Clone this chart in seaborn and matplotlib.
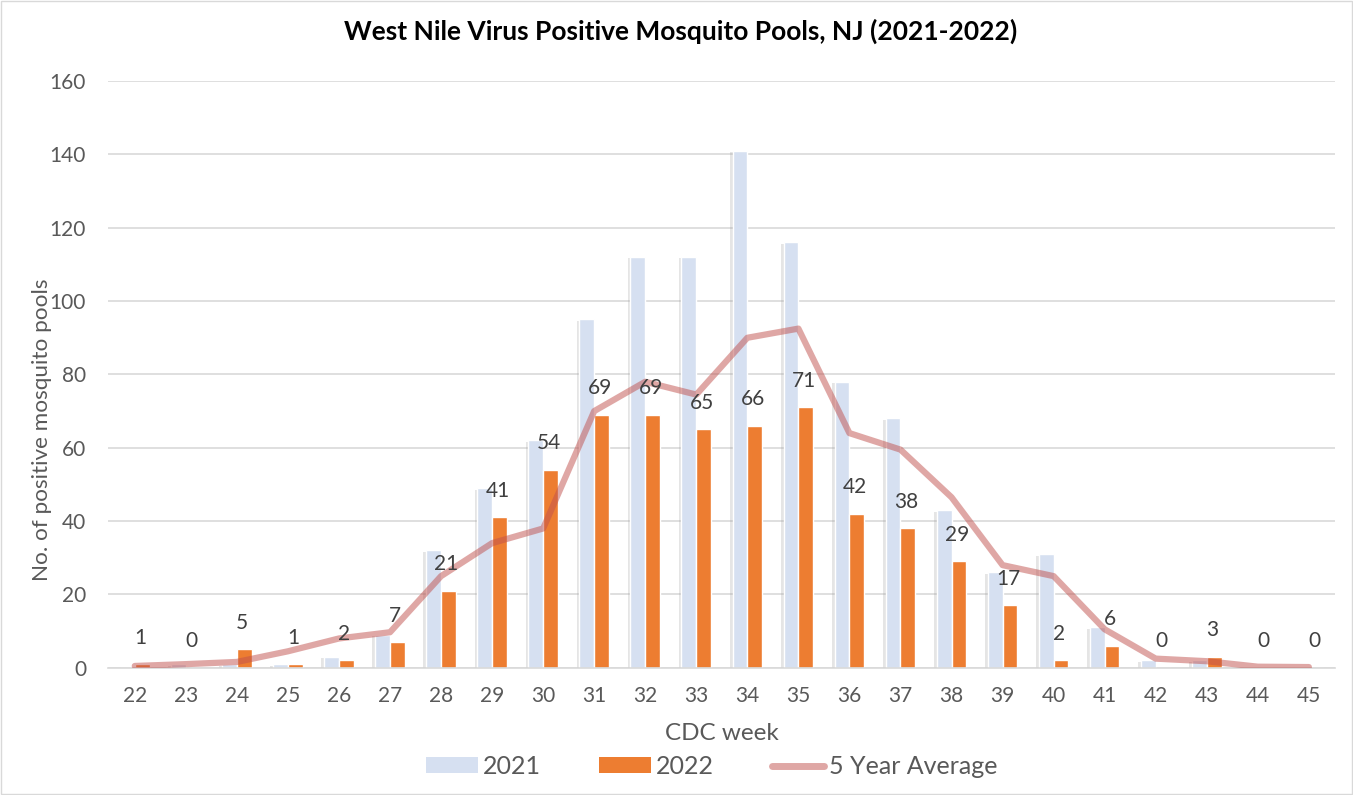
import numpy as np
import pandas as pd
import matplotlib
matplotlib.use("Agg")
import matplotlib.pyplot as plt
import matplotlib.patheffects as pe
from matplotlib.patches import Patch
from matplotlib.lines import Line2D
import seaborn as sns

weeks = [22, 23, 24, 25, 26, 27, 28, 29, 30, 31, 32, 33,
         34, 35, 36, 37, 38, 39, 40, 41, 42, 43, 44, 45]
pools_2021 = [0, 1, 1, 1, 3, 9, 32, 49, 62, 95, 112, 112,
              141, 116, 78, 68, 43, 26, 31, 11, 2, 2, 0, 0]
pools_2022 = [1, 0, 5, 1, 2, 7, 21, 41, 54, 69, 69, 65,
              66, 71, 42, 38, 29, 17, 2, 6, 0, 3, 0, 0]
avg_5yr = [0.5, 1, 1.6, 4.5, 8, 9.7, 25, 34, 38, 70, 78, 74.5,
           90, 92.5, 64, 59.5, 46.5, 28, 25, 10.5, 2.5, 1.8, 0.3, 0.2]

df = pd.DataFrame({
    "week": [str(w) for w in weeks] * 2,
    "pools": pools_2021 + pools_2022,
    "year": ["2021"] * len(weeks) + ["2022"] * len(weeks),
})

c21 = "#D6E0F1"
c22 = "#ED7D31"
cline = "#C0504D"
txt = "#595959"

sns.set_style("white")
plt.rcParams["font.family"] = ["Lato", "DejaVu Sans"]

fig = plt.figure(figsize=(13.53, 7.95), dpi=100)
ax = fig.add_axes([0.08, 0.16, 0.907, 0.738])

sns.barplot(data=df, x="week", y="pools", hue="year", order=[str(w) for w in weeks],
            palette={"2021": c21, "2022": c22}, width=0.58, gap=0, dodge=True,
            saturation=1, errorbar=None, legend=False, ax=ax, zorder=2)

# soft shadow on the 2021 bars like the Excel original
for bar in ax.containers[0]:
    bar.set_path_effects([pe.SimplePatchShadow(offset=(-2, -1), alpha=0.25, shadow_rgbFace="#999999"),
                          pe.Normal()])

sns.lineplot(x=np.arange(len(weeks)), y=avg_5yr, color=cline, alpha=0.5,
             linewidth=4.5, ax=ax, zorder=4, solid_capstyle="round")

# data labels for 2022
for bar, v in zip(ax.containers[1], pools_2022):
    ax.text(bar.get_x() + bar.get_width() / 2 - 0.04, v + 4.5, str(v), ha="center",
            va="bottom", fontsize=15, color="#404040", zorder=5)

ax.set_ylim(0, 160)
ax.set_xlim(-0.52, len(weeks) - 0.48)
ax.set_yticks(range(0, 161, 20))
ax.yaxis.grid(True, color="#D9D9D9", linewidth=1.2, zorder=0)
ax.set_axisbelow(True)
for s in ["top", "right", "left"]:
    ax.spines[s].set_visible(False)
ax.spines["bottom"].set_color("#D9D9D9")
ax.spines["bottom"].set_linewidth(1.2)
ax.tick_params(axis="both", length=0, labelsize=15, labelcolor=txt)
ax.tick_params(axis="x", pad=13)
ax.tick_params(axis="y", pad=16)

ax.set_xlabel("CDC week", fontsize=17.5, color=txt, labelpad=12)
ax.set_ylabel("No. of positive mosquito pools", fontsize=16.2, color=txt)
ax.yaxis.set_label_coords(-0.046, 0.405)

fig.text(0.503, 0.96, "West Nile Virus Positive Mosquito Pools, NJ (2021-2022)",
         ha="center", va="center", fontsize=19, fontweight="bold", color="#000000")

handles = [Patch(facecolor=c21, edgecolor="none"),
           Patch(facecolor=c22, edgecolor="none"),
           Line2D([0], [0], color=cline, alpha=0.5, linewidth=5, solid_capstyle="round")]
leg = fig.legend(handles, ["2021", "2022", "5 Year Average"], loc="center",
                 bbox_to_anchor=(0.526, 0.036), ncol=3, frameon=False, fontsize=18,
                 handlelength=2.1, handleheight=0.6, handletextpad=0.2, columnspacing=2.3,
                 labelcolor=txt)

# chart border
fig.patches.append(plt.Rectangle((0.001, 0.001), 0.998, 0.998, transform=fig.transFigure,
                                 fill=False, edgecolor="#D9D9D9", linewidth=1))

fig.savefig("out.png", dpi=100)
